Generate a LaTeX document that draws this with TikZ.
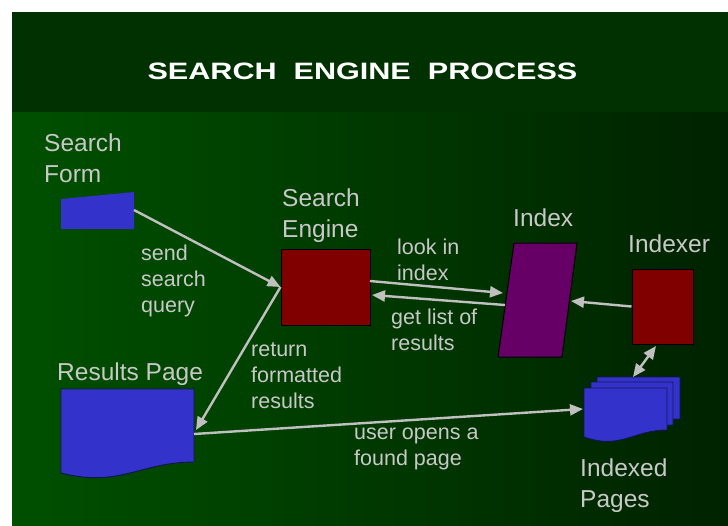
\documentclass[tikz,border=0pt]{standalone}
\usepackage{fontspec}
\setmainfont{Liberation Sans}
\usetikzlibrary{arrows.meta}
\definecolor{bandgreen}{RGB}{1,49,1}
\definecolor{leftgreen}{RGB}{0,80,0}
\definecolor{rightgreen}{RGB}{0,34,0}
\definecolor{txtgray}{RGB}{200,200,200}
\definecolor{linegray}{RGB}{192,192,192}
\definecolor{pageblue}{RGB}{51,51,204}
\definecolor{pageedge}{RGB}{20,20,80}
\definecolor{boxred}{RGB}{128,0,0}
\definecolor{idxpurple}{RGB}{102,0,102}
\begin{document}
\begin{tikzpicture}[x=1pt,y=-1pt,
  head/.style={text=txtgray, font=\fontsize{24.5}{31}\selectfont, align=left, anchor=base west, inner sep=0pt},
  lbl/.style={text=txtgray, font=\fontsize{21.5}{26}\selectfont, align=left, anchor=base west, inner sep=0pt},
  conn/.style={draw=linegray, line width=2.4pt, -{Triangle[length=13pt,width=11pt]}},
  dconn/.style={draw=linegray, line width=2.4pt, {Triangle[length=13pt,width=11pt]}-{Triangle[length=13pt,width=11pt]}},
  redbox/.style={draw=black, line width=1pt, fill=boxred, inner sep=0pt},
  page/.style={fill=pageblue, draw=pageedge, line width=0.9pt}
]
\useasboundingbox (0,0) rectangle (728,525);
% background
\fill[white] (0,0) rectangle (728,525);
\fill[bandgreen] (12,12) rectangle (728,112);
\shade[left color=leftgreen, right color=rightgreen] (12,112) rectangle (728,525);

% title
\node[text=white, font=\bfseries\fontsize{23.7}{28}\selectfont, anchor=base, inner sep=0pt] (title) at (362.5,79)
  {\scalebox{1.29}[1]{SEARCH\ \ ENGINE\ \ PROCESS}};

% search form
\fill[pageblue] (61,199) -- (134,192) -- (134,229) -- (61,229) -- cycle;
\coordinate (sfout) at (134,210);
\node[head] (sfl) at (44,182) {Search\\Form};

% search engine
\node[redbox, minimum width=89pt, minimum height=76pt] (se) at (325.5,287) {};
\node[head] (sel) at (282,237) {Search\\Engine};
\coordinate (seout) at (370,281);
\coordinate (sein) at (372,295);

% index
\filldraw[fill=idxpurple, draw=black, line width=1pt] (514,243) -- (577,243) -- (562,357) -- (498,357) -- cycle;
\coordinate (idxin) at (503,293);
\coordinate (idxout) at (505,305);
\coordinate (idxright) at (571,301);
\node[head] (idxl) at (513,226) {Index};

% indexer
\node[redbox, minimum width=61pt, minimum height=75pt] (ixr) at (662.5,306.5) {};
\node[head] (ixrl) at (628,252) {Indexer};
\coordinate (ixrbot) at (656,346);

% results page
\filldraw[page] (61,389) -- (194,389) -- (194,462) .. controls (140,462) and (120,488) .. (61,473) -- cycle;
\node[head] (rpl) at (57,380) {Results Page};
\coordinate (rpin) at (196,430);
\coordinate (rpout) at (194,434);

% indexed pages (stack)
\filldraw[page] (597,377) -- (680,377) -- (680,419) .. controls (646,419) and (634,437) .. (597,426) -- cycle;
\filldraw[page] (591,382) -- (673,382) -- (673,425) .. controls (640,425) and (628,443) .. (591,432) -- cycle;
\filldraw[page] (584,388) -- (667,388) -- (667,430) .. controls (633,430) and (621,450) .. (584,437) -- cycle;
\node[head] (ipl) at (580,507) {Indexed\\Pages};
\coordinate (iptop) at (633,377);
\coordinate (ipin) at (583,409);

% connectors
\draw[conn] (sfout) -- (se.west);
\draw[conn] (se.west) -- (rpin);
\draw[conn] (seout) -- (idxin);
\draw[conn] (idxout) -- (sein);
\draw[conn] (ixr.west) -- (idxright);
\draw[dconn] (ixrbot) -- (iptop);
\draw[conn] (rpout) -- (ipin);

% labels
\node[lbl] (l1) at (141,312) {send\\search\\query};
\node[lbl] (l2) at (397,280) {look in\\index};
\node[lbl] (l3) at (391,350) {get list of\\results};
\node[lbl] (l4) at (251,408) {return\\formatted\\results};
\node[lbl] (l5) at (354,465) {user opens a\\found page};
\end{tikzpicture}
\end{document}
